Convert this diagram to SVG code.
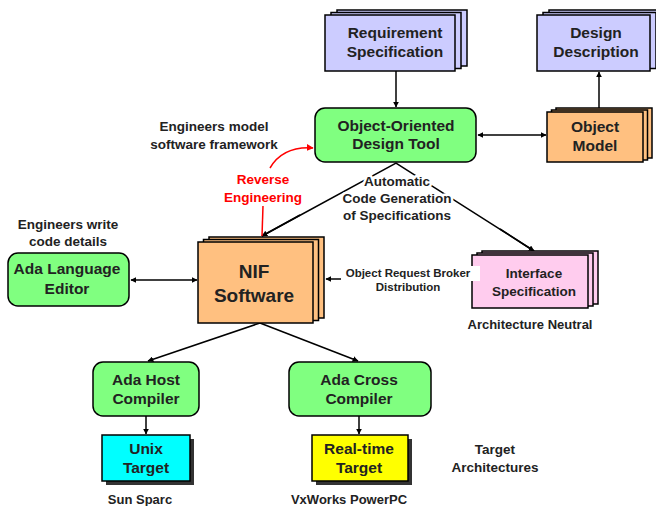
<svg xmlns="http://www.w3.org/2000/svg" width="656" height="506" viewBox="0 0 656 506">
<defs>
<style>
text{font-family:"Liberation Sans",Arial,sans-serif;font-weight:bold;fill:#222;text-anchor:middle}
.box{stroke:#000;stroke-width:1.5}
.lav{fill:#CCCCFF}
.grn{fill:#80FF80}
.org{fill:#FFC080}
.pnk{fill:#FFCCEE}
.t155{font-size:15.5px}
.t135{font-size:13.5px}
.t13{font-size:13px}
.con{stroke:#000;stroke-width:1.5;fill:none}
.red{stroke:#FF0000;stroke-width:1.5;fill:none}
.mask{stroke:#fff;stroke-width:5;paint-order:stroke;stroke-linejoin:round}
</style>
<marker id="ah" viewBox="0 0 10 10" refX="9" refY="5" markerWidth="6" markerHeight="6" orient="auto-start-reverse" markerUnits="userSpaceOnUse">
<path d="M0,0 L10,5 L0,10 z" fill="#000"/>
</marker>
<marker id="ahr" viewBox="0 0 10 10" refX="9" refY="5" markerWidth="7" markerHeight="7" orient="auto" markerUnits="userSpaceOnUse">
<path d="M0,0 L10,5 L0,10 z" fill="#FF0000"/>
</marker>
</defs>
<rect width="656" height="506" fill="#fff"/>

<g id="connectors">
<line class="con" x1="396" y1="71" x2="396" y2="107" marker-end="url(#ah)"/>
<line class="con" x1="599" y1="108" x2="599" y2="72" marker-end="url(#ah)"/>
<line class="con" x1="478" y1="135" x2="546" y2="135" marker-start="url(#ah)" marker-end="url(#ah)"/>
<polyline class="con" points="262,236 396,163 534,251"/>
<line class="con" x1="300" y1="215" x2="262" y2="236" marker-end="url(#ah)"/>
<line class="con" x1="500" y1="229" x2="534" y2="251" marker-end="url(#ah)"/>
<line class="con" x1="131" y1="280" x2="197" y2="280" marker-start="url(#ah)" marker-end="url(#ah)"/>
<line class="con" x1="343" y1="279" x2="326" y2="279" marker-end="url(#ah)"/>
<line class="con" x1="260" y1="323" x2="148" y2="361" marker-end="url(#ah)"/>
<line class="con" x1="260" y1="323" x2="358" y2="361" marker-end="url(#ah)"/>
<line class="con" x1="146" y1="416" x2="146" y2="434" marker-end="url(#ah)"/>
<line class="con" x1="359" y1="416" x2="359" y2="434" marker-end="url(#ah)"/>
<line class="red" x1="262" y1="236" x2="263" y2="206"/>
<path class="red" d="M270,168 Q283,146 313,148" marker-end="url(#ahr)"/>
</g>

<g id="requirement-spec">
<rect class="box lav" x="337" y="10" width="130" height="56"/>
<rect class="box lav" x="331" y="12.5" width="130" height="56"/>
<rect class="box lav" x="325" y="15" width="130" height="56"/>
<text class="t155" x="395" y="37.5">Requirement</text>
<text class="t155" x="395" y="57">Specification</text>
</g>

<g id="design-description">
<rect class="box lav" x="549" y="10" width="113" height="56"/>
<rect class="box lav" x="543" y="12.5" width="113" height="56"/>
<rect class="box lav" x="537" y="15" width="113" height="56"/>
<text class="t155" x="596" y="37.5">Design</text>
<text class="t155" x="596" y="57">Description</text>
</g>

<g id="oo-design-tool">
<rect class="box grn" x="315" y="108" width="161" height="54" rx="10"/>
<text class="t155" x="396" y="130.5">Object-Oriented</text>
<text class="t155" x="396" y="148.5">Design Tool</text>
</g>

<g id="object-model">
<rect class="box org" x="556" y="108" width="96" height="50"/>
<rect class="box org" x="551.5" y="110" width="96" height="50"/>
<rect class="box org" x="547" y="112" width="96" height="50"/>
<text class="t155" x="595" y="131.5">Object</text>
<text class="t155" x="595" y="150.5">Model</text>
</g>

<g id="engineers-model">
<text class="t135" x="214" y="131">Engineers model</text>
<text class="t135" x="214" y="149">software framework</text>
</g>

<g id="reverse-engineering">
<text class="t135" x="263" y="184" style="fill:#FF0000">Reverse</text>
<text class="t135" x="263" y="202" style="fill:#FF0000">Engineering</text>
</g>

<g id="code-generation">
<text class="t135 mask" x="397" y="186">Automatic</text>
<text class="t135 mask" x="397" y="203">Code Generation</text>
<text class="t135 mask" x="397" y="220">of Specifications</text>
</g>

<g id="engineers-write">
<text class="t135" x="68" y="229">Engineers write</text>
<text class="t135" x="68" y="246">code details</text>
</g>

<g id="ada-editor">
<rect class="box grn" x="8" y="253" width="121" height="53" rx="10"/>
<text class="t155" x="67" y="273.5">Ada Language</text>
<text class="t155" x="67" y="293.5">Editor</text>
</g>

<g id="nif-software">
<rect class="box org" x="209" y="237" width="115" height="81"/>
<rect class="box org" x="203.5" y="239.5" width="115" height="81"/>
<rect class="box org" x="198" y="242" width="115" height="81"/>
<text x="254" y="278" style="font-size:19px">NIF</text>
<text x="254" y="302" style="font-size:19px">Software</text>
</g>

<g id="interface-spec">
<rect class="box pnk" x="482" y="251" width="116" height="53"/>
<rect class="box pnk" x="477" y="253" width="116" height="53"/>
<rect class="box pnk" x="472" y="255" width="116" height="53"/>
<text class="t135" x="534" y="278">Interface</text>
<text class="t135" x="534" y="296">Specification</text>
</g>

<g id="orb">
<rect x="341" y="266" width="139" height="15" fill="#fff"/>
<text x="408" y="277" style="font-size:11.5px">Object Request Broker</text>
<text x="408" y="291" style="font-size:11.5px">Distribution</text>
</g>

<g id="arch-neutral">
<text class="t13" x="530" y="329">Architecture Neutral</text>
</g>

<g id="ada-host">
<rect class="box grn" x="93" y="362" width="106" height="54" rx="10"/>
<text class="t155" x="146" y="384.5">Ada Host</text>
<text class="t155" x="146" y="403.5">Compiler</text>
</g>

<g id="ada-cross">
<rect class="box grn" x="289" y="362" width="142" height="54" rx="10"/>
<text class="t155" x="359" y="384.5">Ada Cross</text>
<text class="t155" x="359" y="403.5">Compiler</text>
</g>

<g id="unix-target">
<rect x="106" y="439" width="88" height="46" fill="#333"/>
<rect class="box" x="102" y="435" width="88" height="46" fill="#00FFFF"/>
<text class="t155" x="146" y="453.5">Unix</text>
<text class="t155" x="146" y="472.5">Target</text>
</g>

<g id="realtime-target">
<rect x="316" y="439" width="96" height="46" fill="#333"/>
<rect class="box" x="312" y="435" width="96" height="46" fill="#FFFF00"/>
<text class="t155" x="359" y="453.5">Real-time</text>
<text class="t155" x="359" y="472.5">Target</text>
</g>

<g id="target-arch">
<text class="t135" x="495" y="454">Target</text>
<text class="t135" x="495" y="472">Architectures</text>
</g>

<g id="sun-sparc"><text class="t13" x="140" y="504">Sun Sparc</text></g>
<g id="vxworks"><text class="t13" x="349" y="504">VxWorks PowerPC</text></g>
</svg>
